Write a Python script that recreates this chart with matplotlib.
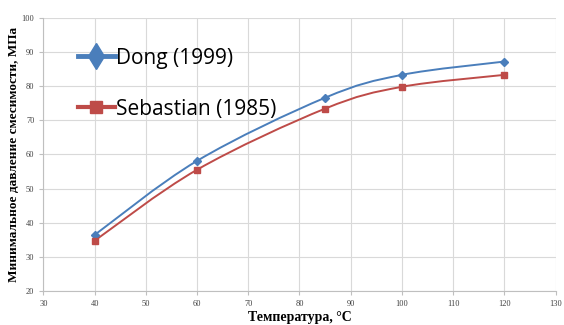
import numpy as np
import matplotlib
matplotlib.use("Agg")
import matplotlib.pyplot as plt
from matplotlib.path import Path
from matplotlib.patches import PathPatch
from matplotlib.lines import Line2D

temps = [40, 60, 85, 100, 120]
dong = [36.4, 58.1, 76.6, 83.3, 87.2]
sebastian = [34.7, 55.5, 73.4, 79.8, 83.3]
labels = ["Dong (1999)", "Sebastian (1985)"]
colors = ["#4a7ebb", "#be4b48"]
markers = ["D", "s"]

xlabel = "Температура, °C"
ylabel = "Минимальное давление смесимости, МПа"


def smooth_path(xs, ys, t=1/6):
    xs = np.asarray(xs, float); ys = np.asarray(ys, float)
    n = len(xs)
    verts = [(xs[0], ys[0])]
    codes = [Path.MOVETO]
    for i in range(n - 1):
        p0 = np.array([xs[max(i - 1, 0)], ys[max(i - 1, 0)]])
        p1 = np.array([xs[i], ys[i]])
        p2 = np.array([xs[i + 1], ys[i + 1]])
        p3 = np.array([xs[min(i + 2, n - 1)], ys[min(i + 2, n - 1)]])
        c1 = p1 + (p2 - p0) * t
        c2 = p2 - (p3 - p1) * t
        verts += [tuple(c1), tuple(c2), tuple(p2)]
        codes += [Path.CURVE4] * 3
    return Path(verts, codes)


fig = plt.figure(figsize=(5.64, 3.25), dpi=100)
ax = fig.add_axes([0.077, 0.105, 0.908, 0.84])

for ys, c, m, lab in zip([dong, sebastian], colors, markers, labels):
    ax.add_patch(PathPatch(smooth_path(temps, ys), fill=False, edgecolor=c, lw=1.4, zorder=3))
    ax.plot(temps, ys, ls="none", marker=m, color=c, ms=4 if m == "D" else 4.5, zorder=4)

ax.set_xlim(30, 130)
ax.set_ylim(20, 100)
ax.set_xticks(np.arange(30, 131, 10))
ax.set_yticks(np.arange(20, 101, 10))
ax.grid(True, color="#d9d9d9", lw=0.8)
ax.set_axisbelow(True)
for s in ["top", "right"]:
    ax.spines[s].set_visible(False)
for s in ["left", "bottom"]:
    ax.spines[s].set_color("#bfbfbf")
ax.tick_params(length=3, color="#bfbfbf", labelsize=6, labelcolor="#404040")
for lbl in ax.get_xticklabels() + ax.get_yticklabels():
    lbl.set_family("Liberation Serif")

ax.set_xlabel(xlabel, family="Liberation Serif", fontweight="bold", fontsize=10, labelpad=2)
ax.set_ylabel(ylabel, family="Liberation Serif", fontweight="bold", fontsize=9.5, labelpad=1)

handles = [Line2D([], [], color="#4a7ebb", lw=3.5, marker="d", ms=13),
           Line2D([], [], color="#be4b48", lw=3, marker="s", ms=8)]
leg = ax.legend(handles, labels, loc="upper left", bbox_to_anchor=(0.03, 0.96),
                frameon=False, prop={"family": "Open Sans", "size": 15},
                handlelength=1.8, handletextpad=0.05, labelspacing=1.45)

fig.savefig("out.png", dpi=100)
